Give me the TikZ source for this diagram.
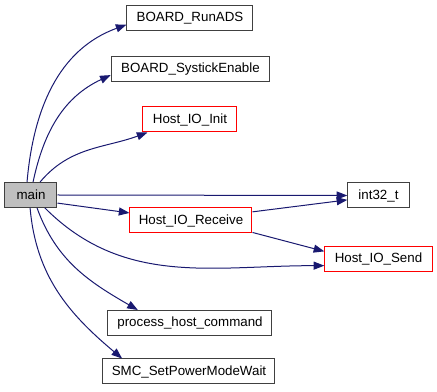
\documentclass[tikz,border=0pt]{standalone}
\usepackage{fontspec}
\setmainfont{Liberation Sans}
\usetikzlibrary{arrows.meta}
\definecolor{edgeblue}{RGB}{25,25,112}
\definecolor{maingray}{RGB}{191,191,191}
\tikzset{
  fn/.style={draw=black!75, fill=white, line width=0.75pt, inner sep=0pt,
    minimum height=18.75pt, font=\fontsize{10pt}{12pt}\selectfont},
  fnred/.style={fn, draw=red},
  call/.style={draw=edgeblue, line width=0.75pt,
    -{Triangle[length=8pt,width=6pt]}},
}
\begin{document}
\begin{tikzpicture}[x=0.75pt,y=-0.75pt]
                \useasboundingbox (0,0) rectangle (437,392);
                
                % Drawing node main
                \node [fn, fill=maingray, minimum width=39pt] (main) at (31,195) {main};%
                
                % Drawing callee nodes
                \node [fn, minimum width=94.5pt] (runads) at (190,18) {BOARD\_RunADS};%
                \node [fn, minimum width=119pt] (systick) at (190.5,69.5) {BOARD\_SystickEnable};%
                \node [fnred, minimum width=70.5pt] (ioinit) at (190,119.5) {Host\_IO\_Init};%
                \node [fn, minimum width=46pt] (int32) at (378.5,195.5) {int32\_t};%
                \node [fnred, minimum width=91.5pt] (ioreceive) at (191,220.5) {Host\_IO\_Receive};%
                \node [fnred, minimum width=80.5pt] (iosend) at (378.5,259) {Host\_IO\_Send};%
                \node [fn, minimum width=123pt] (hostcmd) at (190,323) {process\_host\_command};%
                \node [fn, minimum width=129pt] (powerwait) at (189,371.5) {SMC\_SetPowerModeWait};%
                
                % Drawing calls from main
                \draw [call] (main.107) to [out=85, in=200] (runads.186);%
                \draw [call] (main.81) to [out=78, in=205] (systick.184);%
                \draw [call] (main.55) to [out=50, in=200] (ioinit.197);%
                \draw [call] (main.east) -- (int32.west);%
                \draw [call] (main.-17) -- (ioreceive.173);%
                \draw [call] (main.-43) to [out=-45, in=180] (iosend.187);%
                \draw [call] (main.-65) to [out=-70, in=150] (hostcmd.166);%
                \draw [call] (main.-94) to [out=-85, in=140] (powerwait.169);%
                
                % Drawing calls from Host_IO_Receive
                \draw [call] (ioreceive.8) -- (int32.188);%
                \draw [call] (ioreceive.-11) -- (iosend.172);%
\end{tikzpicture}
\end{document}
